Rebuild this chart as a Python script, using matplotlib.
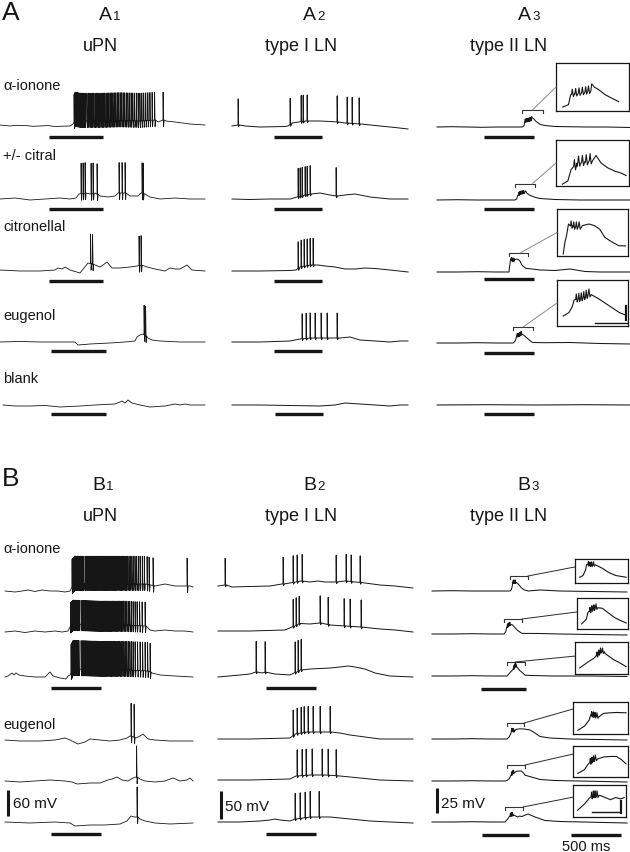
import numpy as np
import matplotlib.pyplot as plt
from matplotlib.patches import ConnectionPatch

plt.rcParams['font.family'] = ['Liberation Sans', 'DejaVu Sans']

# ---- recordings: time in ms from trace start, membrane potential in mV from rest ----
# A1 uPN
A1_ION_T = [0, 100, 160, 250, 330, 400, 480, 550, 620, 700, 730, 750, 800, 1000, 1200, 1400, 1550, 1580, 1630, 1660, 1750, 1900, 2050]
A1_ION_V = [2.3, 0, 1.5, 1.2, -0.8, 0, 1.0, -1.2, -0.5, 0, 4.6, 13.8, 11.5, 11.5, 12.7, 11.5, 13.8, 9.2, 13.8, 11.5, 9.2, 4.6, 2.3]
A1_ION_SPK = [740, 748, 756, 764, 772, 780, 789, 798, 807, 817, 827, 838, 850, 868, 882, 896, 909, 922, 936, 950, 963,
              977, 990, 1004, 1018, 1031, 1045, 1059, 1072, 1086, 1100, 1114, 1128, 1142, 1157, 1172, 1186, 1201, 1216,
              1231, 1246, 1262, 1278, 1294, 1310, 1327, 1344, 1362, 1380, 1398, 1417, 1436, 1456, 1477, 1498, 1520, 1545, 1630]
A1_CIT_T = [0, 150, 300, 450, 600, 700, 760, 790, 850, 900, 950, 1000, 1080, 1150, 1180, 1260, 1300, 1380, 1410, 1450, 1500, 1600, 1750, 1900, 2050]
A1_CIT_V = [0, 2.3, -2.3, 0, 2.3, 0, 2.3, 11.5, 13.8, 11.5, 13.8, 6.9, 4.6, 6.9, 13.8, 13.8, 6.9, 6.9, 13.8, 11.5, 4.6, 0, 2.3, 0, 0]
A1_CIT_SPK = [810, 830, 850, 910, 930, 970, 1190, 1220, 1250, 1420, 1430]
A1_CTN_T = [0, 200, 400, 550, 580, 620, 650, 700, 800, 840, 880, 920, 950, 1000, 1030, 1070, 1120, 1200, 1300, 1370, 1420, 1470, 1550, 1650, 1700, 1750, 1800, 1870, 1920, 2050]
A1_CTN_V = [2.3, 0, 0, 2.3, 6.9, 4.6, 9.2, 2.3, -4.6, 6.9, 18.4, 16.1, 13.8, 9.2, 13.8, 20.7, 6.9, 6.9, 9.2, 11.5, 13.8, 9.2, 4.6, 0, 6.9, 4.6, 4.6, 13.8, 2.3, 0]
A1_CTN_SPK = [905, 925, 1390, 1410]
A1_EUG_T = [0, 200, 400, 600, 750, 780, 900, 1100, 1250, 1350, 1370, 1400, 1430, 1480, 1520, 1600, 1800, 2050]
A1_EUG_V = [0, 1.2, 0, 0, 0, -6.9, -4.6, -2.3, 0, 2.3, 11.5, 16.1, 18.4, 9.2, 4.6, 2.3, 0, 0]
A1_EUG_SPK = [1440, 1455]
A1_BLK_T = [30, 150, 300, 450, 600, 800, 950, 1050, 1150, 1200, 1220, 1250, 1280, 1320, 1400, 1500, 1650, 1750, 1800, 1850, 1900, 2000, 2050]
A1_BLK_V = [2.3, 0, 0, 1.2, -2.3, 0, 2.3, 3.5, 4.6, 9.2, 11.5, 6.9, 13.8, 6.9, 2.3, -2.3, 0, 4.6, 2.3, 4.6, 2.3, 2.3, 2.3]
A1_BLK_SPK = []

# A2 type I LN
A2_ION_T = [0, 60, 130, 280, 530, 560, 600, 730, 880, 980, 1060, 1130, 1280, 1480, 1630, 1760]
A2_ION_V = [0, 1.8, 0, -1.8, -0.9, 0, 5.4, 9, 9, 8.1, 7.2, 5.4, 3.6, 0, -2.7, -5.4]
A2_ION_SPK = [60, 580, 690, 710, 750, 1050, 1150, 1200, 1270]
A2_CIT_T = [0, 180, 380, 580, 650, 730, 780, 880, 980, 1040, 1130, 1230, 1380, 1580, 1760]
A2_CIT_V = [0, -0.9, 0, 0, 3.6, 7.2, 9, 10.8, 7.2, 5.4, 7.2, 9, 3.6, 0, 0]
A2_CIT_SPK = [660, 680, 700, 730, 750, 780, 1040]
A2_CTN_T = [0, 280, 580, 640, 680, 780, 860, 930, 1030, 1130, 1230, 1330, 1430, 1580, 1760]
A2_CTN_V = [0, 0, 0.9, 1.8, 7.2, 10.8, 10.8, 9, 7.2, 3.6, 3.6, 5.4, 4.5, 1.8, -1.8]
A2_CTN_SPK = [660, 690, 720, 750, 780, 810]
A2_EUG_T = [0, 280, 580, 680, 780, 880, 980, 1080, 1180, 1280, 1430, 1580, 1680, 1760]
A2_EUG_V = [0, 0, 1.8, 5.4, 7.2, 7.2, 7.2, 7.2, 9, 3.6, 1.8, 0, 1.8, 1.8]
A2_EUG_SPK = [700, 740, 780, 830, 890, 950, 1050]
A2_BLK_T = [0, 280, 580, 880, 1030, 1130, 1200, 1280, 1430, 1580, 1680, 1760]
A2_BLK_V = [0, 0, -0.9, -1.8, 0, 3.6, 2.7, 1.8, 0, -1.8, 0, 0]
A2_BLK_SPK = []

# A3 type II LN
A3_ION_T = [0, 150, 300, 450, 600, 780, 851, 870, 877, 890, 910, 930, 940, 946, 955, 968, 990, 1012, 1034, 1080, 1180, 1300, 1500, 1700, 1930]
A3_ION_V = [0, 0.3, 0, -0.3, 0, 0, 0, 1.1, 5.6, 6.0, 6.5, 7.0, 7.5, 10.5, 9.0, 8.0, 5.6, 4.0, 2.5, 1.5, 0.5, 0.3, 0, 0, -0.5]
A3_ION_SPK = [880, 891, 902, 913, 924, 933]
A3_CIT_T = [0, 200, 400, 600, 780, 797, 807, 825, 850, 870, 885, 901, 922, 943, 963, 979, 1030, 1180, 1430, 1700, 1930]
A3_CIT_V = [0, 0.3, 0, 0, 0, 1.0, 4.6, 6.6, 7.0, 7.5, 9.0, 6.6, 5.1, 4.1, 3.5, 2.7, 1.5, 0.5, 0, 0, 0]
A3_CIT_SPK = [815, 828, 840, 852, 864]
A3_CTN_T = [0, 200, 400, 600, 720, 725, 730, 736, 745, 755, 765, 778, 799, 815, 831, 847, 863, 889, 910, 1030, 1180, 1330, 1480, 1630, 1930]
A3_CTN_V = [0, 0, 0.3, 0, 0, 5.0, 7.9, 13, 11.7, 11.7, 11.7, 12.3, 13, 12.3, 10.8, 7.2, 5.7, 3.6, 3.5, 2, 1.5, 3, 0.5, 0, 0]
A3_CTN_SPK = [742, 750, 758, 766]
A3_EUG_T = [0, 200, 400, 600, 760, 778, 789, 795, 818, 848, 871, 894, 918, 941, 958, 1080, 1330, 1630, 1930]
A3_EUG_V = [0, 0, 0.3, 0, 0, 1.4, 3.9, 6.8, 7.5, 9.6, 7.5, 5.5, 3.4, 1.4, 0.5, 0.3, 0.5, -0.5, -1]
A3_EUG_SPK = [800, 808, 816, 824, 832, 840]
A3_BLK_T = [0, 500, 1000, 1500, 1930]
A3_BLK_V = [0, 0.3, 0, 0.3, 0]
A3_BLK_SPK = []

# B1 uPN (3x alpha-ionone, 3x eugenol)
B1_R1_T = [0, 100, 170, 230, 300, 370, 450, 530, 600, 650, 670, 700, 950, 1200, 1400, 1450, 1500, 1600, 1700, 1800, 1850, 1880]
B1_R1_V = [2.3, 0, 2.3, 4.6, 1.2, 4.6, 2.3, 2.3, 0, 2.3, 11.5, 18.4, 18.4, 18.4, 18.4, 16.1, 13.8, 18.4, 13.8, 13.8, 13.8, 11.5]
B1_R1_SPK = [670, 676, 682, 688, 694, 700, 707, 714, 721, 729, 737, 746, 755, 764, 774, 784, 800, 812, 823, 834, 845,
             856, 867, 878, 889, 900, 911, 922, 933, 944, 955, 966, 977, 988, 999, 1010, 1021, 1032, 1043, 1054, 1065,
             1076, 1087, 1099, 1111, 1123, 1135, 1147, 1159, 1172, 1185, 1198, 1211, 1225, 1239, 1253, 1268, 1283,
             1299, 1315, 1332, 1350, 1372, 1392, 1420, 1440, 1480, 1820]
B1_R2_T = [0, 100, 200, 300, 400, 500, 570, 630, 650, 680, 950, 1200, 1400, 1450, 1500, 1600, 1700, 1800, 1880]
B1_R2_V = [0, 2.3, -1.2, 2.3, 0, 2.3, 0, 2.3, 11.5, 18.4, 16.1, 16.1, 13.8, 4.6, 2.3, 4.6, 2.3, 2.3, 0]
B1_R2_SPK = [655, 661, 667, 673, 679, 686, 693, 700, 708, 716, 724, 732, 741, 760, 770, 780, 790, 800, 810, 820, 830,
             840, 850, 860, 870, 880, 890, 900, 910, 920, 930, 940, 950, 960, 971, 982, 993, 1004, 1015, 1026, 1037,
             1048, 1060, 1072, 1084, 1096, 1108, 1120, 1133, 1146, 1159, 1172, 1186, 1200, 1215, 1230, 1246, 1262,
             1280, 1300, 1320, 1345, 1370, 1400]
B1_R3_T = [0, 30, 70, 90, 110, 140, 200, 300, 400, 450, 480, 550, 610, 630, 650, 680, 950, 1200, 1430, 1470, 1550, 1700, 1880]
B1_R3_V = [0, 2.3, 9.2, 4.6, 9.2, 4.6, 2.3, 0, 0, 11.5, 2.3, -2.3, -4.6, 2.3, 4.6, 18.4, 16.1, 16.1, 13.8, 9.2, 4.6, 2.3, 0]
B1_R3_SPK = [660, 666, 672, 678, 684, 691, 698, 705, 713, 721, 729, 738, 760, 771, 782, 793, 804, 815, 826, 837, 848,
             859, 870, 881, 892, 903, 914, 925, 936, 947, 958, 969, 980, 991, 1002, 1013, 1024, 1036, 1048, 1060, 1072,
             1084, 1096, 1108, 1121, 1134, 1147, 1160, 1174, 1188, 1202, 1217, 1232, 1248, 1264, 1280, 1300, 1325,
             1350, 1375, 1400, 1425, 1450]
B1_R4_T = [0, 150, 350, 500, 600, 650, 730, 800, 850, 950, 1050, 1150, 1220, 1250, 1310, 1350, 1380, 1430, 1500, 1650, 1880]
B1_R4_V = [2.3, 0, 0, 2.3, 6.9, 2.3, -6.9, -2.3, 4.6, 2.3, 0, 2.3, 6.9, 11.5, 6.9, 11.5, 16.1, 4.6, 2.3, 0, 0]
B1_R4_SPK = [1260, 1290]
B1_R5_T = [0, 150, 300, 450, 600, 670, 720, 850, 950, 1030, 1070, 1120, 1170, 1230, 1280, 1310, 1350, 1400, 1500, 1600, 1680, 1750, 1820, 1850, 1880]
B1_R5_V = [2.3, 0, 2.3, 4.6, 2.3, 0, -4.6, -2.3, -2.3, 4.6, 6.9, 11.5, 4.6, 2.3, 9.2, 11.5, 6.9, 2.3, 0, 2.3, 9.2, 2.3, 4.6, 9.2, 2.3]
B1_R5_SPK = [1315]
B1_R6_T = [0, 250, 500, 650, 700, 850, 1000, 1150, 1220, 1260, 1290, 1320, 1350, 1400, 1500, 1650, 1880]
B1_R6_V = [2.3, 0, 2.3, 0, -6.9, -4.6, -4.6, -2.3, 4.6, 16.1, 13.8, 13.8, 9.2, 4.6, 0, -2.3, 0]
B1_R6_SPK = [1320]

# B2 type I LN
B2_R1_T = [0, 70, 140, 320, 520, 640, 720, 820, 920, 1000, 1070, 1170, 1270, 1370, 1470, 1620, 1770, 1950]
B2_R1_V = [0, 1.8, -1.8, -0.9, 0, 3.6, 5.4, 9, 7.2, 9, 7.2, 7.2, 9, 7.2, 5.4, 1.8, 0, -3.6]
B2_R1_SPK = [70, 650, 750, 790, 840, 1180, 1280, 1330, 1420]
B2_R2_T = [0, 320, 670, 740, 820, 920, 1020, 1120, 1270, 1420, 1620, 1770, 1950]
B2_R2_V = [0, 0, 1.8, 7.2, 14.4, 12.6, 14.4, 10.8, 9, 7.2, 3.6, 1.8, -1.8]
B2_R2_SPK = [750, 780, 810, 1020, 1100, 1260, 1320, 1430]
B2_R3_T = [0, 220, 320, 380, 440, 480, 570, 720, 780, 820, 920, 1120, 1220, 1300, 1370, 1470, 1570, 1720, 1950]
B2_R3_V = [-1.8, 1.8, 3.6, 7.2, 5.4, 7.2, 3.6, 1.8, 7.2, 10.8, 12.6, 14.4, 16.2, 18, 16.2, 12.6, 5.4, 0, -1.8]
B2_R3_SPK = [380, 470, 770, 800, 830]
B2_R4_T = [0, 320, 720, 770, 870, 1020, 1120, 1220, 1320, 1470, 1620, 1770, 1950]
B2_R4_V = [0, 0, 1.8, 9, 12.6, 12.6, 12.6, 10.8, 7.2, 3.6, 0, 0, 0]
B2_R4_SPK = [750, 790, 830, 860, 900, 950, 1020, 1120]
B2_R5_T = [0, 320, 720, 780, 920, 1070, 1220, 1420, 1620, 1950]
B2_R5_V = [0, 0, 1.8, 7.2, 9, 9, 7.2, 3.6, 0, -1.8]
B2_R5_SPK = [790, 840, 880, 940, 1040, 1100, 1180]
B2_R6_T = [0, 220, 420, 520, 570, 620, 720, 770, 920, 1120, 1320, 1520, 1720, 1950]
B2_R6_V = [0, 0, 1.8, 3.6, 5.4, 3.6, 1.8, 5.4, 9, 9, 5.4, 1.8, 0, -1.8]
B2_R6_SPK = [770, 820, 870, 920, 1010]

# B3 type II LN
B3_R1_T = [0, 200, 400, 600, 780, 793, 803, 807, 820, 840, 867, 893, 920, 960, 1080, 1280, 1600, 1950]
B3_R1_V = [0, 0.3, 0, 0, 0, 1.2, 5.1, 9, 8.5, 9, 6.4, 3.3, 1.2, 0, 1, 0, -0.5, -1]
B3_R1_SPK = [812, 818, 824, 831]
B3_R2_T = [0, 200, 400, 600, 720, 739, 746, 760, 784, 804, 829, 855, 881, 900, 1080, 1280, 1600, 1950]
B3_R2_V = [0, 0, 0.3, 0, 0, 2.7, 6.8, 8.5, 10, 9.2, 6.4, 3.6, 1.8, 0.6, 0.5, 0, -0.5, -1]
B3_R2_SPK = [752, 760, 768, 776]
B3_R3_T = [0, 200, 400, 600, 750, 782, 805, 831, 848, 880, 913, 930, 1000, 1200, 1600, 1950]
B3_R3_V = [0, 0, 0.3, 0, 0, 3.7, 6, 10.5, 9, 5.3, 2.5, 0.8, 0.5, 0, 0, -0.5]
B3_R3_SPK = [815, 822, 829, 836]
B3_R4_T = [0, 200, 400, 600, 750, 773, 790, 795, 818, 841, 863, 886, 920, 980, 1030, 1080, 1180, 1380, 1950]
B3_R4_V = [0, 0, 0.3, 0, 0, 2.3, 5.8, 8.7, 7.7, 9.7, 10, 10.2, 10, 9, 6, 2.5, 1, 0, -1]
B3_R4_SPK = [797, 803, 809, 815]
B3_R5_T = [0, 200, 400, 600, 730, 750, 774, 789, 805, 822, 846, 870, 894, 912, 930, 1030, 1080, 1230, 1950]
B3_R5_V = [0, 0, 0.3, 0, 0, 0.5, 2.5, 5.8, 8, 9.2, 9.7, 10, 10, 8.3, 5.8, 3, 1.5, 0.5, -1]
B3_R5_SPK = [795, 801, 807, 813]
B3_R6_T = [0, 200, 400, 600, 730, 757, 777, 790, 817, 837, 857, 877, 897, 910, 960, 1030, 1130, 1280, 1950]
B3_R6_V = [0, 0, 0.3, 0, 0, 3, 6, 7, 7, 6, 5, 6, 5.4, 6, 8, 5, 1.5, 0.5, -1]
B3_R6_SPK = [782, 789, 796, 803]

# spike amplitudes above local potential (mV)
A_AMP = [[64, 70, 68, 68, 0], [47, 51, 48, 45, 0], [2.4, 2.2, 2.2, 2.4, 0]]
B_AMP = [[64, 55, 66, 76, 72, 69], [48, 49, 55, 46, 47, 46], [2.2, 2.2, 2.2, 2.2, 2.2, 2.2]]

# odor stimulus (ms)
A_STIM = [[[490, 1030]] * 3 + [[510, 1060]] * 2,
          [[420, 900]] * 4 + [[430, 910]],
          [[470, 970]] * 5]
B_STIM = [{2: [460, 960], 5: [460, 960]},
          {2: [480, 980], 5: [480, 980]},
          {2: [490, 940], 5: [500, 970]}]

# zoomed windows (ms) shown in the type II LN insets
A_WIN = [[850, 1060], [780, 980], [720, 910], [760, 960]]
B_WIN = [[780, 960], [720, 900], [750, 930], [750, 920], [750, 930], [730, 910]]

ODORS_A = ['\u03b1-ionone', '+/- citral', 'citronellal', 'eugenol', 'blank']
CELLS = ['uPN', 'type I LN', 'type II LN']

A_TRACES = [
    [(A1_ION_T, A1_ION_V, A1_ION_SPK), (A1_CIT_T, A1_CIT_V, A1_CIT_SPK), (A1_CTN_T, A1_CTN_V, A1_CTN_SPK),
     (A1_EUG_T, A1_EUG_V, A1_EUG_SPK), (A1_BLK_T, A1_BLK_V, A1_BLK_SPK)],
    [(A2_ION_T, A2_ION_V, A2_ION_SPK), (A2_CIT_T, A2_CIT_V, A2_CIT_SPK), (A2_CTN_T, A2_CTN_V, A2_CTN_SPK),
     (A2_EUG_T, A2_EUG_V, A2_EUG_SPK), (A2_BLK_T, A2_BLK_V, A2_BLK_SPK)],
    [(A3_ION_T, A3_ION_V, A3_ION_SPK), (A3_CIT_T, A3_CIT_V, A3_CIT_SPK), (A3_CTN_T, A3_CTN_V, A3_CTN_SPK),
     (A3_EUG_T, A3_EUG_V, A3_EUG_SPK), (A3_BLK_T, A3_BLK_V, A3_BLK_SPK)],
]
B_TRACES = [
    [(B1_R1_T, B1_R1_V, B1_R1_SPK), (B1_R2_T, B1_R2_V, B1_R2_SPK), (B1_R3_T, B1_R3_V, B1_R3_SPK),
     (B1_R4_T, B1_R4_V, B1_R4_SPK), (B1_R5_T, B1_R5_V, B1_R5_SPK), (B1_R6_T, B1_R6_V, B1_R6_SPK)],
    [(B2_R1_T, B2_R1_V, B2_R1_SPK), (B2_R2_T, B2_R2_V, B2_R2_SPK), (B2_R3_T, B2_R3_V, B2_R3_SPK),
     (B2_R4_T, B2_R4_V, B2_R4_SPK), (B2_R5_T, B2_R5_V, B2_R5_SPK), (B2_R6_T, B2_R6_V, B2_R6_SPK)],
    [(B3_R1_T, B3_R1_V, B3_R1_SPK), (B3_R2_T, B3_R2_V, B3_R2_SPK), (B3_R3_T, B3_R3_V, B3_R3_SPK),
     (B3_R4_T, B3_R4_V, B3_R4_SPK), (B3_R5_T, B3_R5_V, B3_R5_SPK), (B3_R6_T, B3_R6_V, B3_R6_SPK)],
]

# ---- layout (pixels of the 630 x 853 figure) ----
W, H = 630, 853
INK = '#161616'
MS_PER_PX = 10.0
MV_PER_PX = [2.3, 1.8, 1.0]
TOP_PX, BOT_PX = 50, 18
A_X0, A_T = [0, 232, 437], [2050, 1760, 1930]
B_X0, B_T = [5, 218, 432], [1880, 1950, 1950]
A_BASE = [[127, 200, 272, 343, 407], [127, 200, 272, 343, 406], [128, 201, 273, 344, 406]]
B_BASE = [[593, 633, 678, 742, 783, 824], [587, 632, 677, 740, 781, 823], [592, 635, 677, 740, 782, 823]]
A_BAR = [[11, 10, 10, 9, 8], [11, 10, 10, 9, 9], [10, 9, 7, 10, 9]]
B_BAR = [11, 12, 13]
SHAPE = [(1.0, 6, 11), (2, 6, 14), (3, 6, 10)]  # rise, trough, recovery (ms)
AHP = [15, 3, 1.0]
LW = [0.6, 0.7, 0.75]

A_BOX = [(556, 64, 629, 112), (556, 141, 629, 187), (557, 210, 628, 257), (557, 281, 628, 327)]
B_BOX = [(575, 560, 628, 584), (577, 599, 628, 630), (575, 643, 628, 675),
         (573, 703, 628, 735), (573, 747, 628, 778), (573, 786, 626, 818)]
A_MARG = [(0.17, 0.9), (0.06, 0.45), (0.06, 0.36), (0.37, 0.33)]  # bottom, top margin / trace range
B_MARG = [(0.37, 0.17), (0.25, 0.3), (0.3, 0.3), (0.2, 0.5), (0.2, 0.5), (0.35, 0.3)]
A_BRK = [17, 16, 19, 16]
B_BRK = [15, 15, 14, 16, 16, 15]
A_LINK = [(0.5, 0.5), (0.85, 0.5), (0.58, 0.5), (0.5, 0.5)]
B_LINK = [(1, 0.67), (1, 0.55), (0.45, 0.56), (1, 0.78), (1, 0.74), (1, 0.62)]

fig = plt.figure(figsize=(6.3, 8.53), dpi=100)


def fx(x):
    return x / W


def fy(y):
    return 1 - y / H


def build(t, v, spikes, amp, col):
    t = np.asarray(t, float)
    v = np.asarray(v, float)
    rise, dip, rec = SHAPE[col]
    keep = np.ones(len(t), bool)
    tt, vv = [], []
    for i, st in enumerate(spikes):
        r = rec if i == len(spikes) - 1 else min(rec, 0.92 * (spikes[i + 1] - st))
        d = min(dip, 0.65 * r)
        u = min(rise, 0.4 * d)
        keep &= ~((t > st) & (t < st + r))
        b = np.interp(st, t, v)
        tt += [st, st + u, st + d, st + r]
        vv += [b, b + amp, b - AHP[col], b]
    tt = list(t[keep]) + tt
    vv = list(v[keep]) + vv
    o = np.argsort(tt, kind='stable')
    return np.array(tt)[o], np.array(vv)[o]


def trace_axes(x0, T, ybase, s):
    ax = fig.add_axes([fx(x0), fy(ybase + BOT_PX), T / MS_PER_PX / W, (TOP_PX + BOT_PX) / H])
    ax.set_xlim(0, T)
    ax.set_ylim(-BOT_PX * s, TOP_PX * s)
    ax.axis('off')
    return ax


def add_inset(ax, box, data, amp, win, marg, brk, link, link_color):
    x0, y0, x1, y1 = box
    iax = fig.add_axes([fx(x0), fy(y1), (x1 - x0) / W, (y1 - y0) / H])
    iax.set_xticks([])
    iax.set_yticks([])
    for sp in iax.spines.values():
        sp.set_linewidth(0.9)
        sp.set_color(INK)
    x, y = build(data[0], data[1], data[2], amp, 2)
    m = (x >= win[0]) & (x <= win[1])
    iax.plot(x[m], y[m], color=INK, lw=0.8)
    d = win[1] - win[0]
    iax.set_xlim(win[0] - 0.1 * d, win[1] + 0.04 * d)
    lo, hi = y[m].min(), y[m].max()
    r = hi - lo
    iax.set_ylim(lo - marg[0] * r, hi + marg[1] * r)
    ax.plot([win[0], win[0], win[1], win[1]], [brk - 3, brk, brk, brk - 3], color='#333333', lw=0.8,
            clip_on=False)
    con = ConnectionPatch(xyA=(win[0] + link[0] * d, brk), coordsA=ax.transData,
                          xyB=(0, link[1]), coordsB=iax.transAxes, color=link_color, lw=0.7)
    fig.add_artist(con)
    return iax


def draw(ax, data, amp, col):
    x, y = build(data[0], data[1], data[2], amp, col)
    ax.plot(x, y, color=INK, lw=LW[col], clip_on=False)


def stim(ax, on_off, off_px, s):
    ax.plot(on_off, [-off_px * s] * 2, color=INK, lw=2.4, solid_capstyle='butt', clip_on=False)


# ---- panel A ----
for c in range(3):
    s = MV_PER_PX[c]
    for r in range(5):
        ax = trace_axes(A_X0[c], A_T[c], A_BASE[c][r], s)
        draw(ax, A_TRACES[c][r], A_AMP[c][r], c)
        stim(ax, A_STIM[c][r], A_BAR[c][r], s)
        if c == 2 and r < 4:
            iax = add_inset(ax, A_BOX[r], A_TRACES[c][r], A_AMP[c][r], A_WIN[r], A_MARG[r], A_BRK[r],
                            A_LINK[r], '#8a8a8a')
            if r == 3:
                iax.plot([0.535, 0.986], [0.065, 0.065], color=INK, lw=1.0, transform=iax.transAxes)
                iax.plot([0.972, 0.972], [0.13, 0.435], color=INK, lw=1.6, transform=iax.transAxes)

# ---- panel B ----
last_b_axes = []
for c in range(3):
    s = MV_PER_PX[c]
    for r in range(6):
        ax = trace_axes(B_X0[c], B_T[c], B_BASE[c][r], s)
        draw(ax, B_TRACES[c][r], B_AMP[c][r], c)
        if r in B_STIM[c]:
            stim(ax, B_STIM[c][r], B_BAR[c], s)
        if c == 2:
            iax = add_inset(ax, B_BOX[r], B_TRACES[c][r], B_AMP[c][r], B_WIN[r], B_MARG[r], B_BRK[r],
                            B_LINK[r], '#2a2a2a')
            if r == 5:
                iax.plot([0.358, 0.868], [0.156, 0.156], color=INK, lw=1.0, transform=iax.transAxes)
                iax.plot([0.906, 0.906], [0.125, 0.5], color=INK, lw=1.6, transform=iax.transAxes)
        if r == 5:
            last_b_axes.append(ax)

# scale bars
ax1, ax2, ax3 = last_b_axes
ax1.plot([30, 30], [16, 76], color=INK, lw=2.2, solid_capstyle='butt', clip_on=False)
ax2.plot([30, 30], [5.4, 55.4], color=INK, lw=2.2, solid_capstyle='butt', clip_on=False)
ax3.plot([50, 50], [9, 34], color=INK, lw=2.2, solid_capstyle='butt', clip_on=False)
ax3.plot([1390, 1890], [-13, -13], color=INK, lw=2.4, solid_capstyle='butt', clip_on=False)


# ---- text ----
def label(x, y, s, size, ha='left', va='baseline'):
    fig.text(fx(x), fy(y), s, fontsize=size, ha=ha, va=va, color=INK)


label(2, 20, 'A', 19)
label(2, 486, 'B', 19)
for letter, y_id, y_name in [('A', 20, 51), ('B', 490, 521)]:
    lefts = [99, 303, 518] if letter == 'A' else [92, 303, 517]
    for c in range(3):
        label(lefts[c], y_id, letter, 14)
        label(lefts[c] + 14, y_id, str(c + 1), 9.5)
        label([100, 301, 509][c], y_name, CELLS[c], 13, ha='center')

for name, y in zip(ODORS_A, [90, 160, 231, 320, 383]):
    label(3, y, name, 10.5)
label(3, 553, ODORS_A[0], 10.5)
label(3, 729, ODORS_A[3], 10.5)

label(13, 804, '60 mV', 11, va='center')
label(225, 807, '50 mV', 11, va='center')
label(441, 804, '25 mV', 11, va='center')
label(586, 851, '500 ms', 10.5, ha='center')

fig.savefig('out.png', dpi=100)
